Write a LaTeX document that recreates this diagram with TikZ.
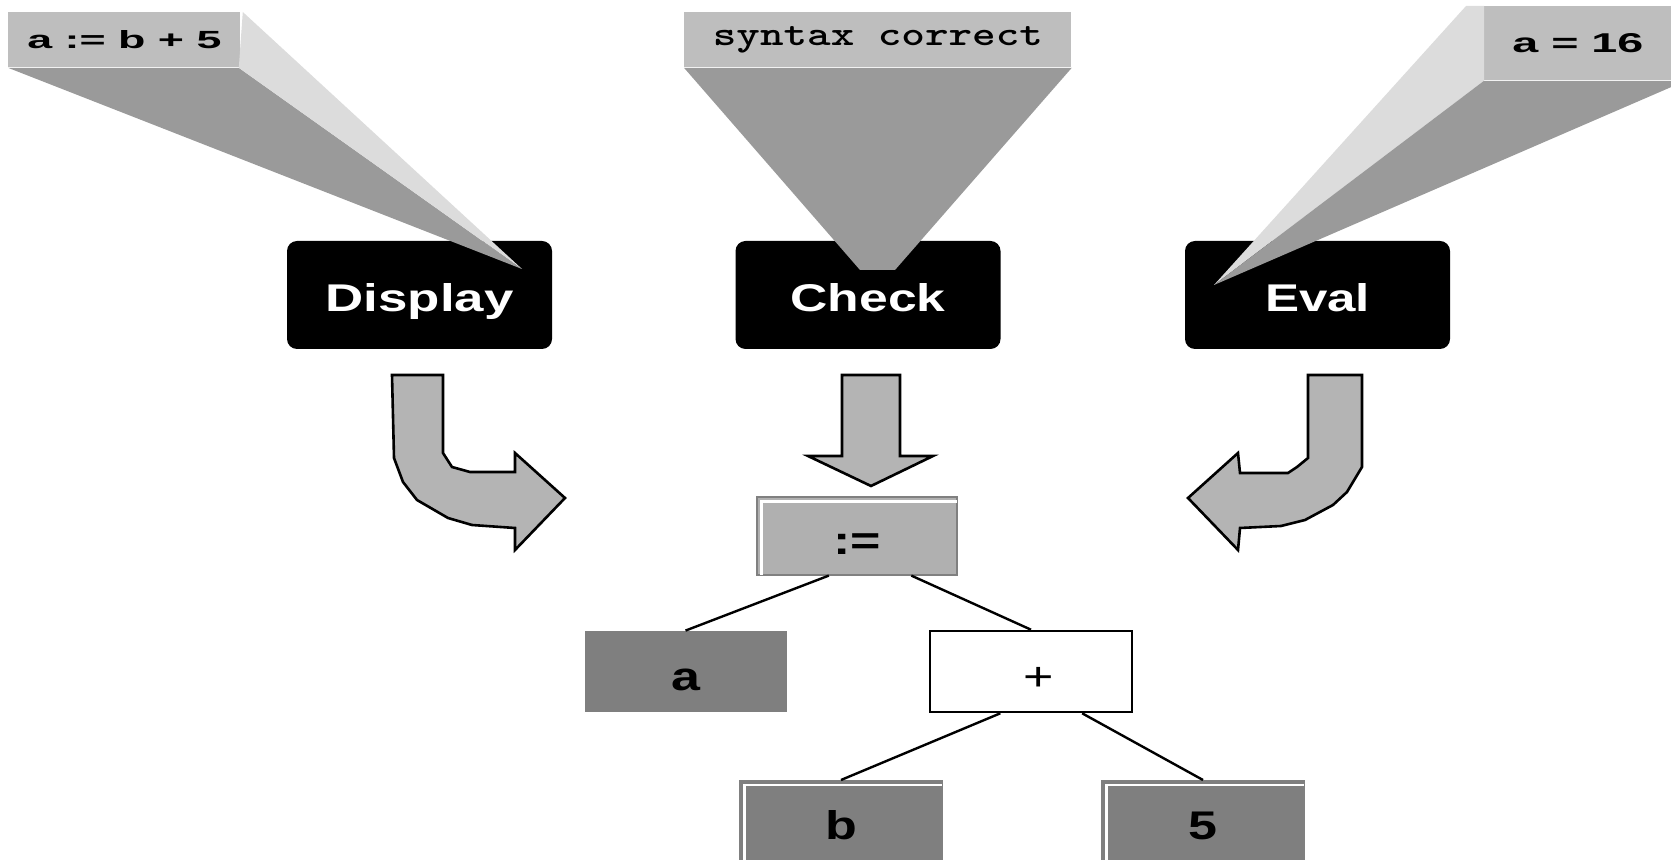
\documentclass[tikz,border=0pt]{standalone}
\usepackage{fontspec}
\usepackage{graphicx}
\newfontfamily\arialf{Liberation Sans}
\usetikzlibrary{calc}
\definecolor{lbox}{HTML}{BEBEBE}
\definecolor{dface}{HTML}{9A9A9A}
\definecolor{lface}{HTML}{DCDCDC}
\definecolor{arrfill}{HTML}{B4B4B4}
\definecolor{dbox}{HTML}{7F7F7F}
\definecolor{mbox}{HTML}{B0B0B0}
\begin{document}
\begin{tikzpicture}[x=0.5pt,y=-0.5pt,
  blackbox/.style={fill=black, rounded corners=5pt, minimum width=132.5pt, minimum height=54pt, inner sep=0pt, text=white, text height=17pt, text depth=0pt},
  labelbox/.style={fill=lbox, inner sep=0pt, anchor=north west},
  bigarrow/.style={fill=arrfill, draw=black, line width=1.3pt, line join=miter},
  treebox/.style={inner sep=0pt, minimum width=101pt, minimum height=40.5pt, text height=20pt, text depth=1.5pt},
  bevel/.style={white, line width=1.2pt},
  treeline/.style={line width=1.2pt},
  treetext/.style={font=\fontsize{20pt}{20pt}\selectfont\arialf\bfseries}
]
\useasboundingbox (0,0) rectangle (1671,860);

% black step boxes
\node[blackbox] (disp) at (419.5,295) {\resizebox{94pt}{14pt}{\arialf\bfseries Display}};
\node[blackbox] (check) at (868,295) {\resizebox{77.5pt}{14pt}{\arialf\bfseries Check}};
\node[blackbox] (eval) at (1317.5,295) {\resizebox{52.5pt}{14pt}{\arialf\bfseries Eval}};

% callout label boxes
\node[labelbox, minimum width=116pt, minimum height=27.5pt] (lab1) at (8,12)
  {\resizebox{97pt}{9pt}{\arialf\bfseries a := b + 5}};
\node[labelbox, minimum width=193.5pt, minimum height=27.5pt] (lab2) at (684,12)
  {\resizebox{165pt}{9.5pt}{\ttfamily\bfseries syntax correct}};
\node[labelbox, minimum width=93.5pt, minimum height=37pt] (lab3) at (1484,6)
  {\resizebox{65.5pt}{9.5pt}{\arialf\bfseries a = 16}};

% callout beams
\coordinate (t1) at (522,269);
\coordinate (t3) at (1214,285);
\fill[dface] (lab1.south west) -- ($(lab1.south east)+(-2,0)$) -- (t1) -- cycle;
\fill[lface] ($(lab1.north east)+(2,0)$) -- (t1) -- ($(lab1.south east)+(-2,0)$) -- cycle;
\fill[dface] (lab2.south west) -- (lab2.south east) -- (895,270) -- (860,270) -- cycle;
\fill[lface] ($(lab3.north west)+(-18,0)$) -- (lab3.north west) -- (lab3.south west) -- (t3) -- cycle;
\fill[dface] (lab3.south west) -- (lab3.south east) -- ($(lab3.south east)+(0,6)$) -- (t3) -- cycle;

% block arrows
\draw[bigarrow] (392,375) -- (443,375) -- (443,453) -- (452,467) -- (470,472) -- (515,472)
  -- (515,453) -- (565,498) -- (515,550) -- (515,528) -- (472,525) -- (448,518) -- (417,500)
  -- (403,482) -- (394,458) -- cycle;
\draw[bigarrow] (842,375) -- (900,375) -- (900,456) -- (933,456) -- (871,486) -- (808,456)
  -- (842,456) -- cycle;
\draw[bigarrow] (1308,375) -- (1362,375) -- (1362,467) -- (1347,492) -- (1333,505)
  -- (1305,520) -- (1281,526) -- (1240,528) -- (1238,550) -- (1188,498) -- (1238,453) -- (1240,473)
  -- (1288,473) -- (1297,467) -- (1308,458) -- cycle;

% tree
\node[treebox, fill=mbox, draw=gray, line width=0.6pt, minimum width=100pt, minimum height=39pt, treetext] (assign) at (857,536) {\scalebox{1.3}[1]{:=}};
\draw[bevel] ($(assign.south west)+(5,-1)$) |- ($(assign.north east)+(-1,5)$);
\node[treebox, fill=dbox, treetext] (a) at (685.5,671.5) {\scalebox{1.3}[1]{a}};
\node[treebox, fill=white, draw=black, line width=1.3pt, font=\fontsize{20pt}{20pt}\selectfont\arialf] (plus) at (1031,671.5) {\hspace{8pt}\scalebox{1.3}[1]{+}};
\node[treebox, fill=dbox, draw=gray, line width=0.6pt, anchor=north, treetext] (b) at (841,780) {\scalebox{1.3}[1]{b}};
\draw[bevel] ($(b.south west)+(5,0)$) |- ($(b.north east)+(-1,5)$);
\node[treebox, fill=dbox, draw=gray, line width=0.6pt, anchor=north, treetext] (five) at (1203,780) {\scalebox{1.3}[1]{5}};
\draw[bevel] ($(five.south west)+(5,0)$) |- ($(five.north east)+(-1,5)$);

\draw[treeline] ($(assign.south west)!0.36!(assign.south east)$) -- (a.north);
\draw[treeline] ($(assign.south west)!0.77!(assign.south east)$) -- (plus.north);
\draw[treeline] ($(plus.south west)!0.35!(plus.south east)$) -- (b.north);
\draw[treeline] ($(plus.south west)!0.75!(plus.south east)$) -- (five.north);
\end{tikzpicture}
\end{document}
